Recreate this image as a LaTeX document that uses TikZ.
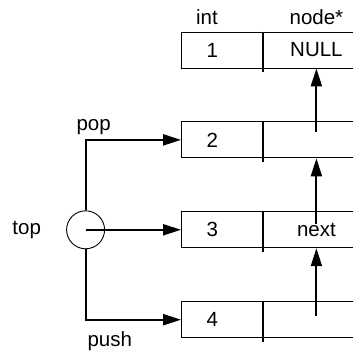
\documentclass[tikz,border=0pt]{standalone}
\usepackage{fontspec}
\setmainfont{Liberation Sans}
\usetikzlibrary{positioning,arrows.meta}

\begin{document}
\begin{tikzpicture}[x=1pt, y=-1pt, >={Triangle[length=18pt,width=11pt]},
  every node/.style={font=\fontsize{20.5}{24}\selectfont},
  val/.style={draw, line width=0.9pt, minimum height=36pt, text width=31pt, inner xsep=25pt, inner ysep=0pt, align=left},
  ptr/.style={draw, line width=0.9pt, minimum height=36pt, minimum width=106pt, inner sep=0pt},
  hub/.style={draw, circle, line width=0.9pt, minimum size=38pt, inner sep=0pt},
  lbl/.style={inner sep=0pt},
  link/.style={->, line width=2pt},
  divider/.style={line width=1.8pt}]
  \path[use as bounding box, clip] (0,0) rectangle (353,352);

  % stack cells
  \node[val] (v1) at (222,50) {1};
  \node[ptr, right=0pt of v1] (p1) {NULL};
  \node[val, below=53pt of v1] (v2) {2};
  \node[ptr, right=0pt of v2] (p2) {};
  \node[val, below=53pt of v2] (v3) {3};
  \node[ptr, right=0pt of v3] (p3) {next};
  \node[val, below=53pt of v3] (v4) {4};
  \node[ptr, right=0pt of v4] (p4) {};

  \draw[divider] (p1.north west) -- ([yshift=-4pt]p1.south west);
  \draw[divider] (p2.north west) -- ([yshift=-4pt]p2.south west);
  \draw[divider] (p3.north west) -- ([yshift=-4pt]p3.south west);
  \draw[divider] (p4.north west) -- ([yshift=-4pt]p4.south west);

  % column heads
  \node[lbl, above=7pt of v1, xshift=-15pt] (hint) {int};
  \node[lbl, above=7pt of p1] (hptr) {node*};

  % next pointers
  \draw[link] ([yshift=8pt]p2.center) -- (p1.south);
  \draw[link] ([yshift=6pt]p3.center) -- (p2.south);
  \draw[link] ([yshift=4pt]p4.center) -- (p3.south);

  % top pointer
  \node[hub, left=76pt of v3] (top) {};
  \node[lbl, left=25pt of top] (toplbl) {top};
  \draw[link] (top.center) -- (v3);
  \draw[link] (top.north) |- node[lbl, anchor=south west, xshift=-10pt, yshift=4pt] (pop) {pop} (v2);
  \draw[link] (top.south) |- node[lbl, anchor=north west, xshift=1pt, yshift=-11pt] (push) {push} (v4);
\end{tikzpicture}
\end{document}
